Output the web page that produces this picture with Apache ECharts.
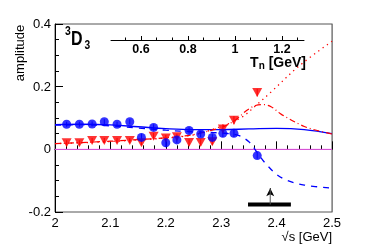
<!DOCTYPE html>
<html><head><meta charset="utf-8">
<script src="https://cdn.jsdelivr.net/npm/echarts@6.0.0/dist/echarts.min.js"></script>
<style>html,body{margin:0;padding:0;background:#fff}#c{width:370px;height:250px}</style>
</head><body><div id="c"></div><script>
const FONT = '"Liberation Sans", Arial, Helvetica, sans-serif';

// ---- data ----
const ptX      = [2.021, 2.044, 2.067, 2.089, 2.112, 2.135, 2.156, 2.178, 2.200, 2.220, 2.242, 2.263, 2.284, 2.303, 2.323, 2.365];
const blueY    = [0.080, 0.080, 0.081, 0.088, 0.080, 0.088, 0.038, 0.070, 0.021, 0.030, 0.060, 0.049, 0.038, 0.051, 0.051, -0.020];
const blueErr  = [0.008, 0.008, 0.008, 0.008, 0.008, 0.008, 0.012, 0.010, 0.014, 0.010, 0.010, 0.010, 0.010, 0.012, 0.012, 0.010];
const redY     = [0.021, 0.021, 0.028, 0.028, 0.028, 0.028, 0.021, 0.042, 0.036, 0.040, 0.022, 0.022, 0.024, 0.065, 0.093, 0.181];
const redErr   = [0.008, 0.008, 0.008, 0.008, 0.008, 0.008, 0.008, 0.010, 0.010, 0.010, 0.010, 0.010, 0.010, 0.015, 0.013, 0.012];

const blueSolidX = [2.0, 2.05, 2.1, 2.15, 2.2, 2.25, 2.3, 2.35, 2.4, 2.45, 2.5];
const blueSolidY = [0.079, 0.080, 0.078, 0.072, 0.066, 0.063, 0.063, 0.065, 0.067, 0.063, 0.050];

const blueDashX = [2.0, 2.05, 2.1, 2.15, 2.2, 2.25, 2.3, 2.33, 2.35, 2.365, 2.38, 2.4, 2.42, 2.45, 2.5];
const blueDashY = [0.077, 0.079, 0.075, 0.068, 0.061, 0.056, 0.052, 0.045, 0.024, -0.010, -0.045, -0.080, -0.100, -0.114, -0.124];

const redDashDotX = [2.0, 2.1, 2.2, 2.25, 2.285, 2.3065, 2.3277, 2.3458, 2.362, 2.375, 2.39, 2.41, 2.45, 2.476, 2.5];
const redDashDotY = [0.018, 0.026, 0.037, 0.047, 0.062, 0.074, 0.096, 0.124, 0.140, 0.143, 0.136, 0.110, 0.073, 0.059, 0.049];

const redDotX = [2.0, 2.1, 2.2, 2.25, 2.285, 2.334, 2.364, 2.39, 2.44, 2.5];
const redDotY = [0.018, 0.025, 0.036, 0.046, 0.064, 0.099, 0.142, 0.183, 0.265, 0.345];

const zeroX = [2.0, 2.5];
const zeroY = [0, 0];

const barX = [2.3484, 2.4258];
const barY = [-0.176, -0.176];
const arrowX = [2.3885, 2.3885];
const arrowY = [-0.176, -0.124];

const xTicks = [2, 2.1, 2.2, 2.3, 2.4, 2.5];
const yTicks = [-0.2, 0, 0.2, 0.4];
const yTickText = ['-0.2', '0', '0.2', '0.4'];
const tnRange = [0.472, 1.294];
const tnMajor = [0.6, 0.8, 1.0, 1.2];
const tnMinor = [0.5333, 0.6667, 0.7333, 0.8667, 0.9333, 1.0667, 1.1333, 1.2667];

// ---- build ----
const zip = (xs, ys) => xs.map((x, i) => [x, ys[i]]);
function errSeries(xs, ys, es, color) {
  return {
    type: 'custom', z: 4, silent: true,
    renderItem: (p, api) => {
      const x = api.value(0), y = api.value(1), e = api.value(2);
      const a = api.coord([x, y - e]), b = api.coord([x, y + e]);
      return { type: 'line', shape: { x1: a[0], y1: a[1], x2: b[0], y2: b[1] }, style: { stroke: color, lineWidth: 1 } };
    },
    data: xs.map((x, i) => [x, ys[i], es[i]])
  };
}

const chart = echarts.init(document.getElementById('c'), null, { renderer: 'canvas' });
const lbl = { color: '#000', fontFamily: FONT, fontSize: 13 };
const yMin = yTicks[0], yMax = yTicks[yTicks.length - 1];

chart.setOption({
  animation: false,
  backgroundColor: '#fff',
  grid: [
    { left: 55, right: 38, top: 24, bottom: 38, outerBoundsMode: 'none',
      show: true, borderColor: '#555', borderWidth: 1, backgroundColor: 'transparent' },
    { left: 111, width: 193, top: 20, height: 20, outerBoundsMode: 'none' }
  ],
  xAxis: [
    { type: 'value', gridIndex: 0, min: xTicks[0], max: xTicks[xTicks.length - 1], interval: 0.1,
      axisLine: { lineStyle: { color: '#000', width: 1 } },
      axisTick: { inside: true, length: 8, lineStyle: { color: '#000' } },
      minorTick: { show: true, splitNumber: 5, length: 4, lineStyle: { color: '#000' } },
      axisLabel: Object.assign({ margin: 5, customValues: xTicks, hideOverlap: false }, lbl),
      splitLine: { show: false } },
    { type: 'value', gridIndex: 1, position: 'bottom', min: tnRange[0], max: tnRange[1],
      axisLine: { show: true, lineStyle: { color: '#000', width: 1 } },
      axisTick: { show: true, inside: true, length: 4, customValues: tnMajor, lineStyle: { color: '#000' } },
      axisLabel: { show: true, customValues: tnMajor, margin: 3, color: '#000', fontFamily: FONT, fontSize: 12.5, fontWeight: 'bold' },
      splitLine: { show: false } },
    { type: 'value', gridIndex: 1, position: 'bottom', min: tnRange[0], max: tnRange[1],
      axisLine: { show: false },
      axisTick: { show: true, inside: true, length: 2.5, customValues: tnMinor, lineStyle: { color: '#000' } },
      axisLabel: { show: false }, splitLine: { show: false } }
  ],
  yAxis: [
    { type: 'value', gridIndex: 0, min: yMin, max: yMax, interval: 0.2,
      axisLine: { show: true, lineStyle: { color: '#000', width: 1 } },
      axisTick: { show: true, inside: true, length: 8, lineStyle: { color: '#000' } },
      minorTick: { show: true, splitNumber: 4, length: 4, lineStyle: { color: '#000' } },
      axisLabel: { show: false },
      splitLine: { show: false } },
    { type: 'value', gridIndex: 0, position: 'right', min: yMin, max: yMax,
      axisLine: { show: true, lineStyle: { color: '#888' } },
      axisTick: { show: false }, axisLabel: { show: false }, splitLine: { show: false } },
    { type: 'value', gridIndex: 1, show: false, min: 0, max: 1 }
  ],
  series: [
    { type: 'line', data: zip(zeroX, zeroY), symbol: 'none', lineStyle: { color: '#ff66ff', width: 1 }, z: 1, silent: true },
    { type: 'line', data: zip(blueSolidX, blueSolidY), symbol: 'none', smooth: 0.4,
      lineStyle: { color: '#0000ff', width: 1.3 }, z: 2 },
    { type: 'line', data: zip(blueDashX, blueDashY), symbol: 'none', smooth: 0.35,
      lineStyle: { color: '#0000ff', width: 1.3, type: [6, 6] }, z: 2 },
    { type: 'line', data: zip(redDashDotX, redDashDotY), symbol: 'none', smooth: 0.35,
      lineStyle: { color: '#ff0000', width: 1.2, type: [6, 3, 1, 3] }, z: 2 },
    { type: 'line', data: zip(redDotX, redDotY), symbol: 'none', smooth: 0.35,
      lineStyle: { color: '#ff0000', width: 1.3, type: [1.3, 4] }, z: 2 },
    errSeries(ptX, redY, redErr, '#ff0000'),
    { type: 'scatter', data: zip(ptX, redY), symbol: 'triangle', symbolRotate: 180, symbolSize: [10, 9],
      itemStyle: { color: '#ff0000' }, z: 5 },
    errSeries(ptX, blueY, blueErr, '#0000ff'),
    { type: 'scatter', data: zip(ptX, blueY), symbol: 'circle', symbolSize: 9,
      itemStyle: { color: '#0000ff' }, z: 6 },
    { type: 'line', data: zip(barX, barY), symbol: 'none', lineStyle: { color: '#000', width: 4 }, z: 7 },
    { type: 'line', data: zip(arrowX, arrowY), symbol: 'none', lineStyle: { color: '#555', width: 1 }, z: 7,
      markLine: { silent: true, symbol: ['none', 'arrow'], symbolSize: [6, 8], label: { show: false },
        lineStyle: { color: '#000', width: 1, type: 'solid' },
        data: [[{ coord: [arrowX[0], arrowY[1] - 0.02] }, { coord: [arrowX[1], arrowY[1]] }]] } }
  ]
});

// y tick labels placed through the axis scale
const yLabelEls = yTicks.map((v, i) => {
  const p = chart.convertToPixel({ yAxisIndex: 0 }, v);
  return { type: 'text', id: 'yl' + i, z: 100, zlevel: 1, x: 51, y: p + 0.5,
    style: { text: yTickText[i], fill: '#000', font: '13px ' + FONT, align: 'right', verticalAlign: 'middle' } };
});

chart.setOption({
  graphic: yLabelEls.concat([
    { type: 'text', id: 'yname', x: 20, y: 53, rotation: Math.PI / 2,
      style: { text: 'amplitude', fill: '#000', font: '13px ' + FONT, align: 'center', verticalAlign: 'middle' } },
    { type: 'text', id: 'xname', x: 332, y: 237,
      style: { text: '\u221As [GeV]', fill: '#000', font: '13px ' + FONT, align: 'right', verticalAlign: 'middle' } },
    { type: 'text', id: 'sup', x: 65, y: 31, scaleX: 0.8,
      style: { text: '3', fill: '#000', font: 'bold 13px ' + FONT, align: 'left', verticalAlign: 'middle' } },
    { type: 'text', id: 'D', x: 71, y: 39.5, scaleX: 0.8,
      style: { text: 'D', fill: '#000', font: 'bold 20px ' + FONT, align: 'left', verticalAlign: 'middle' } },
    { type: 'text', id: 'sub', x: 84.5, y: 46, scaleX: 0.85,
      style: { text: '3', fill: '#000', font: 'bold 12px ' + FONT, align: 'left', verticalAlign: 'middle' } },
    { type: 'text', id: 'tn', x: 306, y: 63,
      style: { text: '{t|T}{s|n}{t| [GeV]}', align: 'right', verticalAlign: 'middle',
        rich: { t: { fill: '#000', fontFamily: FONT, fontSize: 14, fontWeight: 'bold', lineHeight: 16, verticalAlign: 'middle' },
                s: { fill: '#000', fontFamily: FONT, fontSize: 10, fontWeight: 'bold', lineHeight: 16, verticalAlign: 'bottom', padding: [6, 0, 0, 0] } } } }
  ])
});
</script></body></html>
